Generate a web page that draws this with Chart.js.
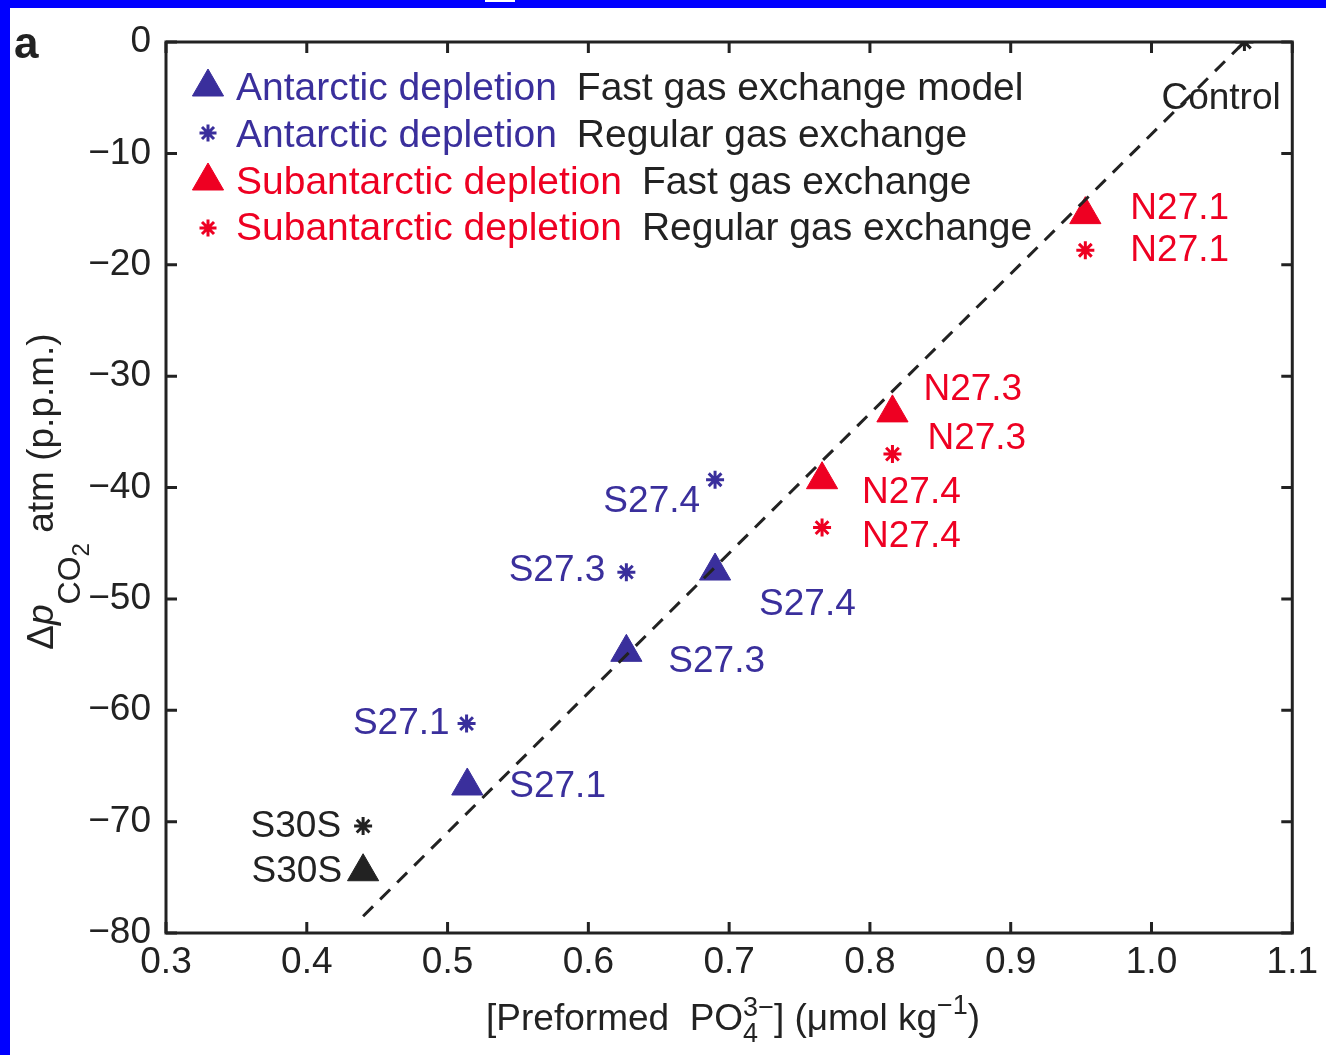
<!DOCTYPE html>
<html>
<head>
<meta charset="utf-8">
<title>Preformed phosphate vs atmospheric pCO2</title>
<script src="https://cdn.jsdelivr.net/npm/chart.js"></script>
<style>
  html, body { margin: 0; padding: 0; background: #fff; }
  #wrap { width: 1326px; height: 1055px; }
</style>
</head>
<body>
<div id="wrap"><canvas id="pco2Chart" width="1326" height="1055"></canvas></div>
<script>
// ---- data ----
const xTicks = [0.3, 0.4, 0.5, 0.6, 0.7, 0.8, 0.9, 1.0, 1.1];
const yTicks = [0, -10, -20, -30, -40, -50, -60, -70, -80];

// Antarctic depletion (blue)
const antNames = ['S27.1', 'S27.3', 'S27.4'];
const antFastX = [0.514, 0.627, 0.690];
const antFastY = [-66.8, -54.8, -47.5];
const antRegX = [0.5135, 0.627, 0.690];
const antRegY = [-61.2, -47.6, -39.3];

// Subantarctic depletion (red)
const subNames = ['N27.1', 'N27.3', 'N27.4'];
const subFastX = [0.953, 0.816, 0.766];
const subFastY = [-15.5, -33.3, -39.3];
const subRegX = [0.953, 0.816, 0.766];
const subRegY = [-18.7, -37.0, -43.6];

// black points
const blackFastNames = ['S30S'];
const blackFastX = [0.44];
const blackFastY = [-74.5];
const blackRegNames = ['S30S', 'Control'];
const blackRegX = [0.44, 1.066];
const blackRegY = [-70.4, 0];

// dashed fit line end points
const fitX = [0.44, 1.066];
const fitY = [-78.5, 0];

// ---- styling ----
const BLUE = '#3a2f9c';
const RED = '#ee0022';
const INK = '#222222';
const FONT = '"Liberation Sans", Arial, Helvetica, sans-serif';

// label placement relative to each point (px): [dx, dy, align]
const antFastLabelPos = [[42, 11, 'left'], [42, 20, 'left'], [44, 44, 'left']];
const antRegLabelPos = [[-17, 10, 'right'], [-21, 9, 'right'], [-15, 32, 'right']];
const subFastLabelPos = [[45, 4, 'left'], [31, -13, 'left'], [40, 23, 'left']];
const subRegLabelPos = [[45, 11, 'left'], [35, -5, 'left'], [40, 19, 'left']];
const blackFastLabelPos = [[-21, 10, 'right']];
const blackRegLabelPos = [[-22, 11, 'right'], [-83, 67, 'left']];

const zip = (xs, ys) => xs.map((x, i) => ({ x, y: ys[i] }));
const fmtMinus = (v) => (v < 0 ? '\u2212' + Math.abs(v) : String(v));

const triangle = (color) => ({
  pointStyle: 'triangle',
  pointRadius: 18,
  backgroundColor: color,
  borderColor: color,
  borderWidth: 1,
});
const asterisk = (color) => ({
  pointStyle: 'star',
  pointRadius: 9,
  backgroundColor: color,
  borderColor: color,
  borderWidth: 3,
});

const datasets = [
  {
    label: 'fit',
    data: zip(fitX, fitY),
    showLine: true,
    pointRadius: 0,
    borderColor: INK,
    borderWidth: 3,
    borderDash: [14, 10],
  },
  Object.assign({ label: 'Antarctic fast', data: zip(antFastX, antFastY), names: antNames, labelPos: antFastLabelPos, color: BLUE }, triangle(BLUE)),
  Object.assign({ label: 'Antarctic regular', data: zip(antRegX, antRegY), names: antNames, labelPos: antRegLabelPos, color: BLUE }, asterisk(BLUE)),
  Object.assign({ label: 'Subantarctic fast', data: zip(subFastX, subFastY), names: subNames, labelPos: subFastLabelPos, color: RED }, triangle(RED)),
  Object.assign({ label: 'Subantarctic regular', data: zip(subRegX, subRegY), names: subNames, labelPos: subRegLabelPos, color: RED }, asterisk(RED)),
  Object.assign({ label: 'S30S fast', data: zip(blackFastX, blackFastY), names: blackFastNames, labelPos: blackFastLabelPos, color: INK }, triangle(INK)),
  Object.assign({ label: 'Regular', data: zip(blackRegX, blackRegY), names: blackRegNames, labelPos: blackRegLabelPos, color: INK }, asterisk(INK)),
];

// draw a row of text runs; run = {text, font, color, dy, noAdvance}
function drawRuns(ctx, runs, x, y, align) {
  let total = 0;
  runs.forEach((r) => {
    ctx.font = r.font;
    r.w = ctx.measureText(r.text).width;
    if (!r.noAdvance) total += r.w;
  });
  let cx = align === 'center' ? x - total / 2 : x;
  runs.forEach((r) => {
    ctx.font = r.font;
    ctx.fillStyle = r.color || INK;
    ctx.fillText(r.text, cx, y + (r.dy || 0));
    if (!r.noAdvance) cx += r.w;
  });
}

function marker(ctx, style, radius, color, lw, x, y) {
  ctx.save();
  ctx.fillStyle = color;
  ctx.strokeStyle = color;
  ctx.lineWidth = lw;
  Chart.helpers.drawPoint(ctx, { pointStyle: style, radius, rotation: 0, borderWidth: lw }, x, y);
  ctx.restore();
}

const backdropPlugin = {
  id: 'backdrop',
  beforeDraw(chart) {
    const { ctx, width, height } = chart;
    ctx.save();
    ctx.fillStyle = '#ffffff';
    ctx.fillRect(0, 0, width, height);
    ctx.fillStyle = '#0000ff';
    ctx.fillRect(0, 0, width, 8);
    ctx.fillRect(0, 0, 10, height);
    ctx.fillStyle = '#ffffff';
    ctx.fillRect(485, 0, 30, 2);
    ctx.restore();
  },
};

const framePlugin = {
  id: 'frame',
  beforeDatasetsDraw(chart) {
    const { ctx, chartArea: a, scales } = chart;
    ctx.save();
    ctx.strokeStyle = INK;
    ctx.lineWidth = 3;
    ctx.strokeRect(a.left, a.top, a.right - a.left, a.bottom - a.top);
    const tl = 11;
    ctx.beginPath();
    xTicks.forEach((v) => {
      const px = scales.x.getPixelForValue(v);
      ctx.moveTo(px, a.bottom); ctx.lineTo(px, a.bottom - tl);
      ctx.moveTo(px, a.top); ctx.lineTo(px, a.top + tl);
    });
    yTicks.forEach((v) => {
      const py = scales.y.getPixelForValue(v);
      ctx.moveTo(a.left, py); ctx.lineTo(a.left + tl, py);
      ctx.moveTo(a.right, py); ctx.lineTo(a.right - tl, py);
    });
    ctx.stroke();
    ctx.restore();
  },
};

const annotatePlugin = {
  id: 'annotate',
  afterDatasetsDraw(chart) {
    const { ctx, chartArea: a, scales } = chart;
    ctx.save();
    ctx.textBaseline = 'alphabetic';

    // point labels
    ctx.font = '37px ' + FONT;
    chart.data.datasets.forEach((ds) => {
      if (!ds.names) return;
      ds.data.forEach((pt, i) => {
        const [dx, dy, align] = ds.labelPos[i];
        ctx.fillStyle = ds.color;
        ctx.textAlign = align;
        ctx.fillText(ds.names[i], scales.x.getPixelForValue(pt.x) + dx, scales.y.getPixelForValue(pt.y) + dy);
      });
    });
    ctx.textAlign = 'left';

    // legend
    const legendRows = [
      ['triangle', BLUE, 'Antarctic depletion', 'Fast gas exchange model'],
      ['star', BLUE, 'Antarctic depletion', 'Regular gas exchange'],
      ['triangle', RED, 'Subantarctic depletion', 'Fast gas exchange'],
      ['star', RED, 'Subantarctic depletion', 'Regular gas exchange'],
    ];
    const rowBase = [100, 147, 194, 240];
    const rowMark = [87, 133, 181, 228];
    const lf = '39px ' + FONT;
    legendRows.forEach(([style, color, name, kind], i) => {
      if (style === 'triangle') marker(ctx, 'triangle', 18, color, 1, 208, rowMark[i]);
      else marker(ctx, 'star', 8.5, color, 3, 208, rowMark[i]);
      ctx.font = lf;
      ctx.fillStyle = color;
      ctx.fillText(name, 236, rowBase[i]);
      const w = ctx.measureText(name).width;
      ctx.fillStyle = INK;
      ctx.fillText(kind, 236 + w + 20, rowBase[i]);
    });

    // panel letter
    ctx.font = 'bold 44px ' + FONT;
    ctx.fillStyle = INK;
    ctx.fillText('a', 14, 58);

    // x-axis title
    const f = '37px ' + FONT;
    const fs = '27px ' + FONT;
    drawRuns(ctx, [
      { text: '[Preformed  PO', font: f },
      { text: '4', font: fs, dy: 12, noAdvance: true },
      { text: '3\u2212', font: fs, dy: -14 },
      { text: '] (\u03bcmol kg', font: f },
      { text: '\u22121', font: fs, dy: -16 },
      { text: ')', font: f },
    ], (a.left + a.right) / 2 + 4, 1030, 'center');

    // y-axis title (rotated)
    ctx.translate(53, (a.top + a.bottom) / 2 + 4);
    ctx.rotate(-Math.PI / 2);
    drawRuns(ctx, [
      { text: '\u0394', font: f },
      { text: 'p', font: 'italic ' + f },
      { text: 'CO', font: '32px ' + FONT, dy: 27 },
      { text: '2', font: '24px ' + FONT, dy: 36 },
      { text: ' atm (p.p.m.)', font: f },
    ], 0, 0, 'center');
    ctx.restore();
  },
};

new Chart(document.getElementById('pco2Chart').getContext('2d'), {
  type: 'scatter',
  data: { datasets },
  options: {
    responsive: false,
    animation: false,
    events: [],
    layout: { padding: { left: 0, top: 42, right: 33, bottom: 0 } },
    plugins: { legend: { display: false }, tooltip: { enabled: false } },
    scales: {
      x: {
        type: 'linear',
        min: 0.3,
        max: 1.1,
        afterFit: (scale) => { scale.height = 122; },
        afterBuildTicks: (scale) => { scale.ticks = xTicks.map((value) => ({ value })); },
        grid: { display: false, drawTicks: false },
        border: { display: false },
        ticks: {
          padding: 8,
          color: INK,
          font: { family: FONT, size: 37 },
          maxRotation: 0,
          callback: (v) => v.toFixed(1),
        },
      },
      y: {
        type: 'linear',
        min: -80,
        max: 0,
        afterFit: (scale) => { scale.width = 166; },
        afterBuildTicks: (scale) => { scale.ticks = yTicks.map((value) => ({ value })); },
        grid: { display: false, drawTicks: false },
        border: { display: false },
        ticks: {
          padding: 15,
          color: INK,
          font: { family: FONT, size: 37 },
          callback: (v) => fmtMinus(v),
        },
      },
    },
  },
  plugins: [backdropPlugin, framePlugin, annotatePlugin],
});
</script>
</body>
</html>
